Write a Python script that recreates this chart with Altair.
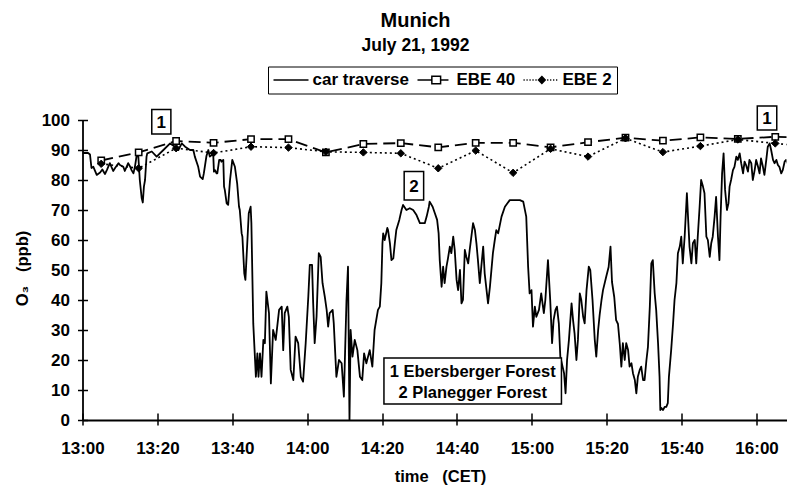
import altair as alt
import pandas as pd

FONT = "Liberation Sans, Arial, Helvetica, sans-serif"

# ---- car traverse (minutes after 13:00, ozone ppb) ----
car_minutes = [
    0.0, 1.5, 2.0, 2.4, 2.9, 3.8, 4.7, 5.3, 6.0, 6.5, 7.3, 8.2, 8.7, 9.6, 10.0, 10.9, 11.3, 12.2, 12.7, 13.1,
    13.6, 14.0, 14.5, 14.9, 15.3, 15.8, 16.1, 16.4, 16.7, 17.1, 17.3, 18.5, 19.8, 21.6, 23.4, 24.7, 25.6, 26.5, 27.4, 28.7,
    29.6, 30.0, 30.9, 31.4, 32.1, 32.4, 33.1, 33.6, 34.0, 34.5, 34.9, 35.1, 35.4, 35.8, 36.0, 36.5, 36.9, 37.1, 37.6, 37.8,
    38.0, 38.5, 38.9, 39.4, 40.0, 40.7, 41.3, 41.8, 42.0, 42.5, 42.7, 43.2, 43.5, 44.0, 44.4, 44.9, 45.1, 45.6, 46.3, 46.7,
    47.0, 47.4, 47.8, 48.3, 48.7, 49.1, 49.8, 50.3, 50.9, 51.6, 52.0, 52.5, 53.2, 53.6, 54.0, 54.7, 55.1, 55.6, 56.3, 56.9,
    57.6, 58.3, 58.9, 59.6, 60.3, 60.7, 61.3, 61.6, 62.0, 62.5, 63.1, 63.6, 64.1, 64.7, 65.2, 65.6, 66.0, 66.8, 67.1, 67.8,
    68.5, 69.2, 69.8, 70.5, 70.9, 71.3, 71.6, 72.1, 72.7, 73.4, 74.1, 74.7, 75.2, 75.8, 76.7, 77.4, 78.0, 78.9, 79.4, 79.8,
    80.1, 80.3, 80.7, 81.4, 81.6, 82.1, 82.5, 83.0, 83.4, 83.8, 84.6, 85.2, 85.6, 86.5, 87.4, 88.3, 89.2, 90.1, 91.4, 91.9,
    92.5, 92.7, 93.5, 94.1, 94.7, 95.1, 95.4, 95.9, 96.3, 96.7, 97.2, 97.6, 98.1, 98.5, 99.0, 99.4, 99.9, 100.3, 100.8, 101.2,
    101.6, 102.1, 102.5, 103.0, 103.4, 104.3, 104.8, 105.2, 105.6, 106.1, 106.5, 107.0, 107.4, 107.9, 108.3, 108.8, 109.6, 110.1, 110.5, 111.0,
    111.9, 112.8, 114.1, 115.9, 116.8, 117.7, 118.5, 119.0, 119.4, 119.9, 120.3, 120.8, 121.2, 121.9, 122.5, 123.2, 123.6, 124.3, 124.9, 125.4,
    125.8, 126.3, 126.7, 127.2, 127.6, 128.2, 128.6, 129.0, 129.4, 129.9, 130.6, 131.0, 131.4, 131.9, 132.3, 132.8, 133.2, 133.7, 134.1, 134.6,
    135.2, 135.6, 136.2, 136.8, 137.2, 137.7, 138.1, 138.6, 139.0, 139.9, 140.5, 141.0, 141.4, 142.0, 142.5, 143.0, 143.5, 143.9, 144.3, 144.8,
    145.2, 145.7, 146.1, 146.6, 147.0, 147.5, 147.9, 148.3, 148.8, 149.2, 149.7, 150.1, 150.6, 151.0, 151.5, 151.9, 152.3, 152.8, 153.2, 153.7,
    154.1, 154.3, 154.6, 155.0, 155.5, 155.9, 156.3, 156.6, 157.2, 157.7, 158.1, 158.6, 159.0, 159.5, 159.9, 160.3, 160.8, 161.4, 161.7, 162.1,
    162.6, 163.0, 163.5, 163.9, 164.3, 164.8, 165.2, 165.7, 166.1, 166.6, 167.0, 167.5, 167.9, 168.3, 168.8, 169.2, 169.7, 170.1, 170.4, 170.8,
    171.2, 171.6, 172.1, 172.5, 172.8, 173.2, 173.7, 174.1, 174.6, 175.0, 175.5, 175.9, 176.4, 176.8, 177.2, 177.7, 178.1, 178.6, 179.0, 179.5,
    179.9, 180.4, 180.8, 181.2, 181.7, 182.1, 182.6, 183.0, 183.5, 183.9, 184.4, 184.8, 185.3, 185.7, 186.1, 186.6, 187.0, 187.5, 187.9, 188.5,
]
car_ozone = [
    89.0, 89.0, 88.5, 84.0, 84.4, 81.7, 82.5, 83.5, 82.0, 83.3, 85.6, 83.0, 84.0, 85.6, 85.0, 84.4, 83.0, 85.6, 84.5, 83.3,
    82.2, 84.4, 88.5, 88.0, 80.0, 74.0, 72.5, 77.8, 80.0, 87.8, 88.9, 89.5, 87.8, 90.0, 92.2, 91.1, 90.0, 92.2, 91.1, 90.0,
    90.0, 87.8, 84.4, 81.1, 80.3, 82.2, 88.0, 90.0, 87.8, 88.3, 88.9, 82.8, 83.3, 82.2, 82.2, 86.7, 86.7, 86.1, 86.7, 77.8,
    76.7, 72.2, 71.7, 80.0, 86.7, 84.4, 78.9, 71.1, 70.0, 62.2, 61.1, 48.9, 46.7, 58.9, 68.9, 71.1, 65.6, 32.2, 14.4, 22.2,
    14.4, 22.2, 14.4, 26.7, 25.6, 42.8, 35.6, 12.2, 30.0, 26.7, 31.1, 36.7, 37.8, 23.3, 35.6, 37.8, 34.4, 16.7, 13.3, 27.8,
    25.6, 14.4, 12.8, 25.6, 41.1, 51.7, 51.7, 38.9, 25.6, 34.4, 55.6, 54.4, 45.6, 41.1, 36.7, 31.1, 35.6, 36.7, 32.2, 14.4,
    20.0, 18.9, 7.8, 40.0, 51.1, 0.0, 30.0, 21.1, 26.7, 23.3, 14.4, 13.3, 22.2, 18.9, 23.3, 17.8, 30.0, 36.7, 37.8, 45.6,
    58.9, 62.2, 60.0, 64.0, 63.3, 58.9, 53.3, 53.9, 58.9, 63.3, 66.7, 70.0, 71.7, 70.0, 70.6, 70.0, 68.3, 65.6, 65.6, 67.8,
    71.1, 72.8, 71.1, 68.9, 66.7, 62.2, 53.3, 44.4, 51.1, 45.6, 51.1, 53.9, 57.8, 55.6, 61.1, 56.7, 46.7, 43.3, 50.0, 38.9,
    40.0, 56.7, 54.4, 52.2, 56.7, 65.6, 63.3, 58.9, 53.3, 45.6, 51.1, 57.8, 48.9, 43.3, 38.9, 44.4, 55.6, 60.0, 63.3, 62.2,
    67.8, 71.1, 73.3, 73.3, 73.3, 72.8, 67.8, 51.1, 42.2, 43.3, 31.1, 37.8, 34.4, 36.7, 42.2, 35.6, 40.0, 53.3, 40.0, 25.6,
    33.3, 36.7, 37.8, 32.2, 21.1, 17.8, 15.6, 8.9, 20.0, 26.7, 38.9, 33.3, 28.9, 20.0, 26.7, 42.2, 40.0, 34.4, 32.2, 43.3,
    51.1, 50.0, 40.0, 26.7, 21.1, 30.0, 35.0, 40.0, 43.3, 48.0, 51.0, 57.8, 46.0, 41.0, 33.3, 32.0, 25.0, 17.8, 25.6, 20.0,
    25.6, 23.3, 17.8, 18.9, 15.6, 13.3, 8.9, 14.4, 16.7, 17.8, 13.3, 13.3, 20.0, 24.4, 37.8, 52.2, 53.3, 42.2, 36.7, 25.6,
    14.4, 3.3, 4.0, 3.3, 4.4, 4.4, 5.6, 14.4, 23.3, 32.0, 40.0, 45.6, 55.6, 57.8, 61.1, 52.2, 61.1, 75.6, 67.8, 57.8,
    52.2, 58.9, 60.0, 52.2, 61.1, 71.1, 80.0, 77.8, 75.6, 61.1, 60.0, 54.4, 58.9, 61.1, 67.8, 74.4, 61.1, 53.3, 67.8, 82.2,
    88.9, 76.7, 70.0, 72.2, 77.8, 80.0, 83.3, 84.4, 87.8, 86.7, 88.9, 85.6, 82.2, 86.1, 85.0, 82.8, 86.7, 85.6, 80.0, 83.3,
    86.7, 84.4, 82.2, 87.2, 84.4, 81.7, 86.7, 91.1, 92.2, 90.0, 86.7, 85.6, 86.7, 85.0, 84.4, 82.2, 83.3, 86.1, 86.7, 85.0,
]

# ---- EBE stations (10-minute values) ----
ebe_minutes = [5, 15, 25, 35, 45, 55, 65, 75, 85, 95, 105, 115, 125, 135, 145, 155, 165, 175, 185, 195]
ebe40_ozone = [86.5, 89.2, 93.0, 92.4, 93.6, 93.6, 89.2, 92.0, 92.3, 90.9, 92.4, 92.4, 90.9, 92.6, 94.1, 93.1, 94.2, 93.7, 94.4, 94.0]
ebe2_ozone = [85.4, 83.9, 90.6, 89.0, 91.1, 90.8, 89.4, 89.2, 88.9, 83.9, 89.8, 82.4, 90.4, 87.8, 93.9, 89.3, 91.3, 93.5, 92.2, 91.0]

# ---- axes ----
x_tick_minutes = [0, 20, 40, 60, 80, 100, 120, 140, 160, 180]
x_tick_labels = ["13:00", "13:20", "13:40", "14:00", "14:20", "14:40", "15:00", "15:20", "15:40", "16:00"]
y_ticks = [0, 10, 20, 30, 40, 50, 60, 70, 80, 90, 100]
x_domain = [0, 188]
y_domain = [0, 100]

# ---- annotations ----
site_labels = ["1", "2", "1"]
site_t0 = [18.5, 85.9, 180.2]
site_t1 = [23.6, 91.1, 185.4]
site_v0 = [95.3, 73.3, 96.7]
site_v1 = [103.5, 82.8, 104.7]

key_lines = ["1 Ebersberger Forest", "2 Planegger Forest"]
key_t = [104.2, 104.2]
key_v = [16.1, 9.1]
key_t0 = [80.5]
key_t1 = [127.9]
key_v0 = [5.3]
key_v1 = [20.7]

series_names = ["car traverse", "EBE 40", "EBE 2"]
legend_shapes = [
    "M-1,0L1,0",
    "M-1,0L-0.2,0M0.34,0L0.77,0M-0.18,-0.22L0.32,-0.22L0.32,0.22L-0.18,0.22Z",
    "M-1,0L-0.93,0M-0.83,0L-0.76,0M-0.66,0L-0.59,0M-0.49,0L-0.42,0M-0.32,0L-0.25,0"
    "M0.35,0L0.42,0M0.52,0L0.59,0M0.69,0L0.76,0M0.86,0L0.93,0"
    "M0.05,-0.2L0.24,0L0.05,0.2L-0.14,0Z",
]
legend_fills = ["black", "white", "black"]
legend_strokes = ["black", "black", "black"]

car_df = pd.DataFrame({"t": car_minutes, "v": car_ozone})
ebe40_df = pd.DataFrame({"t": ebe_minutes, "v": ebe40_ozone})
ebe2_df = pd.DataFrame({"t": ebe_minutes, "v": ebe2_ozone})
site_df = pd.DataFrame({"label": site_labels, "t": site_t0, "t1": site_t1, "v": site_v0, "v1": site_v1})
site_df["tc"] = (site_df["t"] + site_df["t1"]) / 2
site_df["vc"] = (site_df["v"] + site_df["v1"]) / 2
key_df = pd.DataFrame({"text": key_lines, "t": key_t, "v": key_v})
keybox_df = pd.DataFrame({"t": key_t0, "t1": key_t1, "v": key_v0, "v1": key_v1})
legend_df = pd.DataFrame({"series": series_names, "t": [-60] * 3, "v": [50] * 3})

label_expr = "[" + ",".join("'%s'" % s for s in x_tick_labels) + "][round(datum.value / 20)]"

xscale = alt.Scale(domain=x_domain, nice=False, zero=False)
yscale = alt.Scale(domain=y_domain, nice=False, zero=False)

x_axis = alt.Axis(
    orient="bottom", values=x_tick_minutes, labelExpr=label_expr, title="time\u00a0\u00a0\u00a0(CET)",
    titleX=357.5, titleY=61, titleAnchor="middle", titleAlign="center", titleBaseline="alphabetic",
    labelPadding=15, tickSize=5, labelFlush=False,
)
y_axis = alt.Axis(
    orient="left", values=y_ticks, title="O\u2083\u00a0\u00a0\u00a0(ppb)", titleAngle=270,
    titleX=-55, titleY=148, titleAlign="center", titleBaseline="alphabetic",
    labelPadding=8, tickSize=5,
)
# inner halves of the tick marks (ticks cross the axis lines in the original)
x_axis_in = alt.Axis(orient="bottom", values=x_tick_minutes, offset=-7, tickSize=7, domain=False,
                     labels=False, title=None)
y_axis_in = alt.Axis(orient="left", values=y_ticks, offset=-5, tickSize=5, domain=False,
                     labels=False, title=None)


def X(field="t:Q", axis=None):
    return alt.X(field, scale=xscale, axis=axis)


def Y(field="v:Q", axis=None):
    return alt.Y(field, scale=yscale, axis=axis)


car = alt.Chart(car_df).mark_line(color="black", strokeWidth=1.8, clip=True, strokeJoin="round").encode(
    x=X(axis=x_axis), y=Y(axis=y_axis))

ebe40_line = alt.Chart(ebe40_df).mark_line(color="black", strokeWidth=1.8, strokeDash=[12, 6], clip=True).encode(
    x=X(), y=Y())
ebe40_pts = alt.Chart(ebe40_df).mark_point(shape="square", size=40, filled=True, fill="white", stroke="black",
                                           strokeWidth=1.5, opacity=1, clip=True).encode(x=X(), y=Y())
ebe2_line = alt.Chart(ebe2_df).mark_line(color="black", strokeWidth=1.6, strokeDash=[2, 3], clip=True).encode(
    x=X(), y=Y())
ebe2_pts = alt.Chart(ebe2_df).mark_point(shape="diamond", size=55, filled=True, fill="black", stroke="black",
                                         strokeWidth=1, opacity=1, clip=True).encode(x=X(), y=Y())

site_boxes = alt.Chart(site_df).mark_rect(fill="white", stroke="black", strokeWidth=1.5).encode(
    x=X(), x2="t1", y=Y(), y2="v1")
site_text = alt.Chart(site_df).mark_text(font=FONT, fontSize=17, fontWeight="bold", color="black",
                                         baseline="middle", align="center", dy=1).encode(
    x=X("tc:Q"), y=Y("vc:Q"), text="label:N")

key_box = alt.Chart(keybox_df).mark_rect(fill="white", stroke="black", strokeWidth=1.5).encode(
    x=X(), x2="t1", y=Y(), y2="v1")
key_text = alt.Chart(key_df).mark_text(font=FONT, fontSize=16.5, fontWeight="bold", color="black",
                                       baseline="middle", align="center").encode(
    x=X(), y=Y(), text="text:N")

legend = alt.Legend(
    orient="none", legendX=185.5, legendY=-53.5, direction="horizontal",
    symbolSize=1225, symbolStrokeWidth=1.5, symbolStrokeColor="black", symbolOpacity=1,
    labelFont=FONT, labelFontSize=17, labelFontWeight="bold", labelColor="black", labelOffset=3,
    columnPadding=7, padding=4.5, clipHeight=18, strokeColor="black", fillColor="white",
)
legend_layer = alt.Chart(legend_df).mark_point(filled=False, stroke="black", strokeWidth=1.5, opacity=1, clip=True).encode(
    x=X(axis=x_axis_in), y=Y(axis=y_axis_in),
    shape=alt.Shape("series:N", title=None, scale=alt.Scale(domain=series_names, range=legend_shapes), legend=legend),
    fill=alt.Fill("series:N", title=None, scale=alt.Scale(domain=series_names, range=legend_fills), legend=legend),
    stroke=alt.Stroke("series:N", title=None, scale=alt.Scale(domain=series_names, range=legend_strokes), legend=legend),
)

chart = alt.layer(
    car, ebe40_line, ebe40_pts, ebe2_line, ebe2_pts, site_boxes, site_text, key_box, key_text, legend_layer
).resolve_axis(x="independent", y="independent").properties(
    width=704, height=300,
    autosize=alt.AutoSizeParams(type="none"),
    padding={"left": 74.5, "top": 112, "right": 0, "bottom": 69},
    title=alt.TitleParams(
        text="Munich", subtitle="July 21, 1992", font=FONT, subtitleFont=FONT,
        fontSize=20, subtitleFontSize=17.5, fontWeight="bold", subtitleFontWeight="bold",
        color="black", subtitleColor="black", anchor="middle", dx=-19, offset=12, subtitlePadding=5.5,
    ),
).configure_view(stroke="transparent").configure_axis(
    grid=False, domainColor="black", domainWidth=1.8, tickColor="black", tickWidth=1.5,
    labelFont=FONT, labelFontSize=17, labelFontWeight="bold", labelColor="black",
    titleFont=FONT, titleFontSize=16.5, titleFontWeight="bold", titleColor="black",
)

chart.save("out.html", embed_options={"renderer": "svg", "actions": False})
